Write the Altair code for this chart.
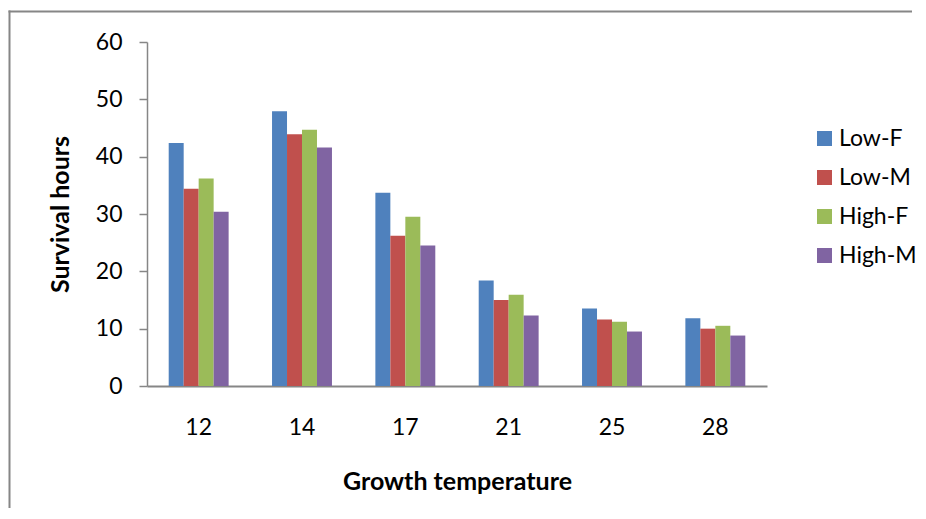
import altair as alt
import pandas as pd

temps = ["12", "14", "17", "21", "25", "28"]
groups = ["Low-F", "Low-M", "High-F", "High-M"]
low_f = [42.4, 47.9, 33.7, 18.4, 13.5, 11.8]
low_m = [34.4, 43.9, 26.2, 15.0, 11.6, 10.0]
high_f = [36.2, 44.7, 29.5, 15.9, 11.2, 10.5]
high_m = [30.4, 41.6, 24.5, 12.3, 9.5, 8.8]
colors = ["#4F81BD", "#C0504D", "#9BBB59", "#8064A2"]

rows = []
for g, vals in zip(groups, [low_f, low_m, high_f, high_m]):
    for t, v in zip(temps, vals):
        rows.append({"temp": t, "group": g, "hours": v})
df = pd.DataFrame(rows)

FONT = "Lato"
AX = "#868686"

bars = alt.Chart(df).mark_bar().encode(
    x=alt.X("temp:N", sort=temps,
            scale=alt.Scale(paddingInner=0.42, paddingOuter=0.21),
            axis=alt.Axis(title="Growth temperature", labelAngle=0, ticks=False,
                          labelPadding=30, titlePadding=30, domainColor=AX,
                          domainWidth=2, labelFontSize=23, titleFontSize=25,
                          labelColor="#000000", titleColor="#000000",
                          labelFont=FONT, titleFont=FONT, titleFontWeight="bold")),
    xOffset=alt.XOffset("group:N", sort=groups),
    y=alt.Y("hours:Q", scale=alt.Scale(domain=[0, 60], nice=False),
            axis=alt.Axis(title="Survival hours", values=[0, 10, 20, 30, 40, 50, 60],
                          grid=False, tickSize=8, tickColor=AX, tickWidth=1.5,
                          domainColor=AX, domainWidth=1.5, labelPadding=17,
                          titlePadding=22, labelFontSize=23, titleFontSize=25,
                          labelColor="#000000", titleColor="#000000",
                          labelFont=FONT, titleFont=FONT, titleFontWeight="bold")),
    color=alt.Color("group:N", sort=groups,
                    scale=alt.Scale(domain=groups, range=colors),
                    legend=alt.Legend(title=None, orient="none", legendX=666, legendY=85,
                                      symbolType="square", symbolSize=225,
                                      symbolStrokeWidth=0, labelFontSize=23,
                                      labelFont=FONT, labelColor="#000000",
                                      labelOffset=3, rowPadding=15, padding=0)),
)

one = pd.DataFrame({"a": [0]})
left_line = alt.Chart(one).mark_rule(color=AX, strokeWidth=2).encode(
    x=alt.value(-137.5), y=alt.value(-31.5), y2=alt.value(470)
)
top_line = alt.Chart(one).mark_rule(color=AX, strokeWidth=2).encode(
    x=alt.value(-138.5), x2=alt.value(765), y=alt.value(-30.5)
)

chart = alt.layer(left_line, top_line, bars).properties(
    width=620, height=344,
    autosize=alt.AutoSizeParams(type="none"),
    padding={"left": 139, "top": 34, "right": 151, "bottom": 122},
    background="white",
).configure_view(stroke=None)

chart.save("out.html", embed_options={"renderer": "svg", "actions": False})
